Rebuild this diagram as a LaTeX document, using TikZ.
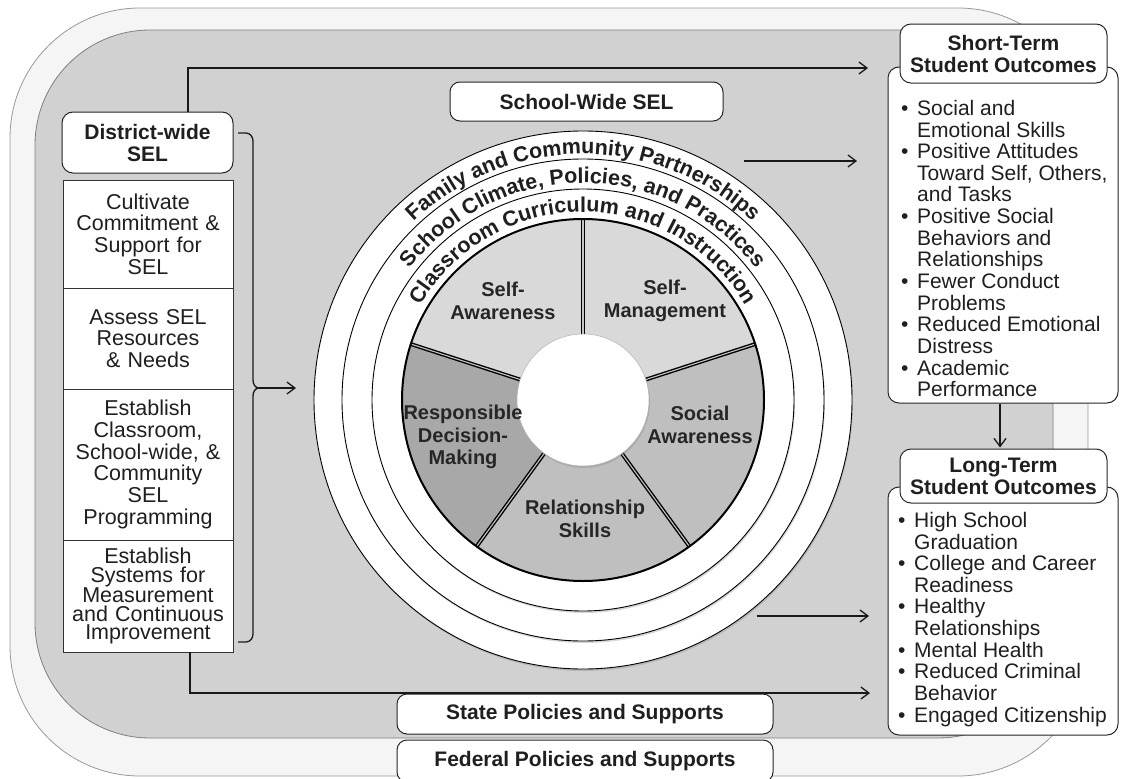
\documentclass[tikz,border=0pt]{standalone}
\usepackage{fontspec}
\setmainfont{Liberation Sans}
\usetikzlibrary{arrows.meta,decorations.text,shadows,calc}
\newcommand\rfnt{\fontsize{21.5}{21.5}\selectfont\bfseries}
\begin{document}
\begin{tikzpicture}[x=1pt,y=1pt,
  hdr/.style={draw=black!85, line width=1pt, fill=white, rounded corners=11pt,
    font=\fontsize{21}{22}\selectfont\bfseries, align=center, inner sep=0pt, text=black!88},
  cell/.style={draw=black!80, line width=0.9pt, fill=white, minimum width=170pt, inner sep=0pt,
    text width=166pt, align=center, font=\fontsize{21.5}{21.7}\selectfont, text=black!88},
  listtxt/.style={anchor=north west, inner sep=0pt, font=\fontsize{21}{21.4}\selectfont, text=black!88},
  wl/.style={font=\fontsize{20}{22.5}\selectfont\bfseries, align=center, inner sep=0pt, text=black!85},
  arr/.style={-{Straight Barb[length=8pt,width=12pt,line width=1.3pt]}, line width=1.3pt, black!90},
  lnk/.style={line width=1.3pt, black!90},
  ring/.style={draw=black, line width=0.9pt, fill=white,
    drop shadow={shadow xshift=1pt,shadow yshift=-2pt,opacity=0.3}},
  divider/.style={line width=1.4pt, double=gray!45, double distance=1.1pt},
  segA/.style={fill=black!15},
  segB/.style={fill=black!25},
  segC/.style={fill=black!34},
  ringtext/.style={decorate, decoration={text along path, text align=center, text color=black!88}}
]
\useasboundingbox (0,0) rectangle (1122,-779);
\clip (0,0) rectangle (1122,-779);

% backgrounds
\draw[draw=black!40, fill=black!4, line width=0.8pt, rounded corners=130pt] (10,-8) rectangle (1088,-776);
\draw[draw=black!50, fill=black!18, line width=0.8pt, rounded corners=115pt] (35,-30) rectangle (1053,-738);

% wheel
\coordinate (wc) at (583,-400);
\path[ring] (wc) circle[radius=269pt];
\path[ring] (wc) circle[radius=241pt];
\path[ring] (wc) circle[radius=211pt];
\fill[segA] (wc) -- ++(90:181pt) arc[start angle=90,end angle=162,radius=181pt] -- cycle;
\fill[segA] (wc) -- ++(18:181pt) arc[start angle=18,end angle=90,radius=181pt] -- cycle;
\fill[segB] (wc) -- ++(-54:181pt) arc[start angle=-54,end angle=18,radius=181pt] -- cycle;
\fill[segB] (wc) -- ++(-126:181pt) arc[start angle=-126,end angle=-54,radius=181pt] -- cycle;
\fill[segC] (wc) -- ++(162:181pt) arc[start angle=162,end angle=234,radius=181pt] -- cycle;
\foreach \a in {90,18,-54,-126,162}
  \draw[divider] ($(wc)+(\a:60pt)$) -- ($(wc)+(\a:181pt)$);
\draw[line width=2pt] (wc) circle[radius=181pt];
\path[fill=white, draw=black!30, line width=0.5pt,
  drop shadow={shadow xshift=1pt,shadow yshift=-2pt,opacity=0.3}] (wc) circle[radius=66pt];

% ring texts
\path[ringtext, decoration={text={|\rfnt|Family and Community Partnerships}}]
  ($(wc)+(180:246pt)$) arc[start angle=180,end angle=0,radius=246pt];
\path[ringtext, decoration={text={|\rfnt|School Climate{,} Policies{,} and Practices}}]
  ($(wc)+(180:217pt)$) arc[start angle=180,end angle=0,radius=217pt];
\path[ringtext, decoration={text={|\rfnt|Classroom Curriculum and Instruction}}]
  ($(wc)+(180:188pt)$) arc[start angle=180,end angle=0,radius=188pt];

% wheel labels
\node[wl] (sa) at (503,-301) {Self-\\Awareness};
\node[wl] (sm) at (665,-301) {Self-\\Management};
\node[wl] (soc) at (700,-425) {Social\\Awareness};
\node[wl] (rel) at (585,-519) {Relationship\\Skills};
\node[wl] (rdm) at (463,-437) {Responsible\\Decision-\\Making};

% left column
\node[hdr, minimum width=171pt, minimum height=61pt] (dist) at (147.5,-142.5) {District-wide\\SEL};
\node[cell, minimum height=108pt] (s1) at (148,-234) {Cultivate\\Commitment \&\\Support for\\SEL};
\node[cell, minimum height=101pt] (s2) at (148,-338.5) {Assess SEL\\Resources\\\& Needs};
\node[cell, minimum height=151pt] (s3) at (148,-464.5) {Establish\\Classroom,\\School-wide, \&\\Community\\SEL\\Programming};
\node[cell, minimum height=112pt, font=\fontsize{21.5}{18.7}\selectfont] (s4) at (148,-596) {Establish\\Systems for\\Measurement\\and Continuous\\Improvement};

% middle boxes
\node[hdr, rounded corners=10pt, minimum width=273pt, minimum height=39pt] (sw) at (586.5,-101.5) {School-Wide SEL};
\node[hdr, rounded corners=10pt, minimum width=376pt, minimum height=40pt] (state) at (585,-714) {State Policies and Supports};
\node[hdr, rounded corners=10pt, minimum width=376pt, minimum height=42pt] (fed) at (585,-761) {Federal Policies and Supports};

% right boxes
\node[draw=black!85, line width=1pt, fill=white, rounded corners=11pt, minimum width=230pt, minimum height=336pt, inner sep=0pt] (stb) at (1003,-235) {};
\node[hdr, minimum width=207pt, minimum height=59pt] (sth) at (1003.5,-53.5) {Short-Term\\Student Outcomes};
\node[listtxt] (stl) at (901,-100) {\begin{tabular}{@{}l@{}l@{}}
\makebox[16pt][l]{\textbullet} & Social and\\
 & Emotional Skills\\
\makebox[16pt][l]{\textbullet} & Positive Attitudes\\
 & Toward Self, Others,\\
 & and Tasks\\
\makebox[16pt][l]{\textbullet} & Positive Social\\
 & Behaviors and\\
 & Relationships\\
\makebox[16pt][l]{\textbullet} & Fewer Conduct\\
 & Problems\\
\makebox[16pt][l]{\textbullet} & Reduced Emotional\\
 & Distress\\
\makebox[16pt][l]{\textbullet} & Academic\\
 & Performance
\end{tabular}};

\node[draw=black!85, line width=1pt, fill=white, rounded corners=11pt, minimum width=230pt, minimum height=248pt, inner sep=0pt] (ltb) at (1003,-611) {};
\node[hdr, minimum width=207pt, minimum height=54pt] (lth) at (1003.5,-476) {Long-Term\\Student Outcomes};
\node[listtxt] (ltl) at (898,-512) {\begin{tabular}{@{}l@{}l@{}}
\makebox[16pt][l]{\textbullet} & High School\\
 & Graduation\\
\makebox[16pt][l]{\textbullet} & College and Career\\
 & Readiness\\
\makebox[16pt][l]{\textbullet} & Healthy\\
 & Relationships\\
\makebox[16pt][l]{\textbullet} & Mental Health\\
\makebox[16pt][l]{\textbullet} & Reduced Criminal\\
 & Behavior\\
\makebox[16pt][l]{\textbullet} & Engaged Citizenship
\end{tabular}};

% connector end points
\coordinate (topEnd) at (868,-68);
\coordinate (botEnd) at (870,-693);
\coordinate (wheelIn) at (296,-388);
\coordinate (w1s) at (744,-161);
\coordinate (w1e) at (857,-161);
\coordinate (w2s) at (757,-616);
\coordinate (w2e) at (869,-616);
\coordinate (brTop) at (238,-133);
\coordinate (brBot) at (238,-642);
\coordinate (brMid) at (259,-388);

% connectors
\draw[arr] ([xshift=40.5pt]dist.north) |- (topEnd);
\draw[arr] ([xshift=42pt]s4.south) |- (botEnd);
\draw[lnk] (brTop) -- ++(8,0) to[out=0,in=90] (253,-141) -- (253,-380) to[out=-90,in=180] (brMid);
\draw[lnk] (brBot) -- ++(8,0) to[out=0,in=-90] (253,-634) -- (253,-396) to[out=90,in=180] (brMid);
\draw[arr] (brMid) -- (wheelIn);
\draw[arr] (w1s) -- (w1e);
\draw[arr] (w2s) -- (w2e);
\draw[arr, shorten >=1pt] ([xshift=-3pt]stb.south) -- ([xshift=-3.5pt]lth.north);
\end{tikzpicture}
\end{document}
